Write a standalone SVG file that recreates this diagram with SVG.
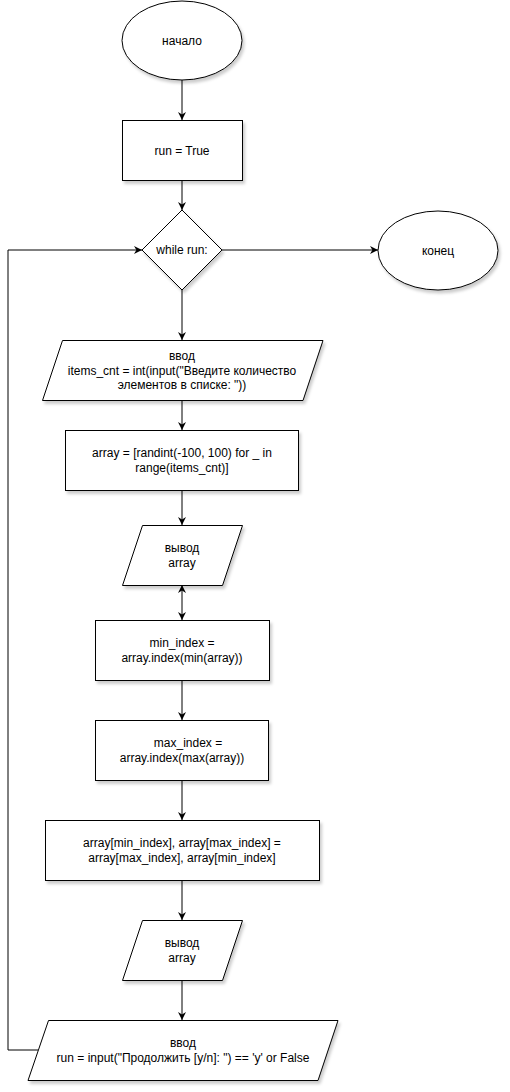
<svg xmlns="http://www.w3.org/2000/svg" width="510" height="1092" viewBox="0 0 510 1092">
<style>
.s{fill:#fff;stroke:#000;stroke-width:1;filter:url(#sh)}
.t{font-family:"Liberation Sans",Arial,sans-serif;font-size:12px;fill:#000;text-anchor:middle}
.c{fill:none;stroke:#000;stroke-width:1}
</style>
<defs>
<filter id="sh" x="-10%" y="-10%" width="130%" height="130%">
<feDropShadow dx="2" dy="3" stdDeviation="1.5" flood-color="#000" flood-opacity="0.2"/>
</filter>
<marker id="a" viewBox="0 0 10 10" refX="10" refY="5" markerWidth="8" markerHeight="8" markerUnits="userSpaceOnUse" orient="auto-start-reverse">
<path d="M0,0 L10,5 L0,10 L3,5 Z" fill="#000"/>
</marker>
</defs>
<rect width="510" height="1092" fill="#fff"/>
<g id="connectors">
<path class="c" d="M182,80 V120" marker-end="url(#a)"/>
<path class="c" d="M182,180 V210" marker-end="url(#a)"/>
<path class="c" d="M222,250 H378" marker-end="url(#a)"/>
<path class="c" d="M182,290 V340" marker-end="url(#a)"/>
<path class="c" d="M182,400 V430" marker-end="url(#a)"/>
<path class="c" d="M182,490 V525" marker-end="url(#a)"/>
<path class="c" d="M182,585 V620" marker-start="url(#a)" marker-end="url(#a)"/>
<path class="c" d="M182,680 V720" marker-end="url(#a)"/>
<path class="c" d="M182,780 V820" marker-end="url(#a)"/>
<path class="c" d="M182,880 V920" marker-end="url(#a)"/>
<path class="c" d="M182,980 V1020" marker-end="url(#a)"/>
<path class="c" d="M38,1050 H8 V250 H142" marker-end="url(#a)"/>
</g>
<g id="start">
<ellipse class="s" cx="182" cy="40.5" rx="60" ry="39.5"/>
<text class="t" x="182" y="45">начало</text>
</g>
<g id="init">
<rect class="s" x="122.5" y="120.5" width="120" height="60"/>
<text class="t" x="182" y="155">run = True</text>
</g>
<g id="while">
<path class="s" d="M182,210 L222,250 L182,290 L142,250 Z"/>
<text class="t" x="182" y="254">while run:</text>
</g>
<g id="end">
<ellipse class="s" cx="438" cy="250.5" rx="60" ry="39.5"/>
<text class="t" x="438" y="255">конец</text>
</g>
<g id="input1">
<path class="s" d="M62.5,340.5 H323 L303,400.5 H42.5 Z"/>
<text class="t" x="182" y="360">ввод</text>
<text class="t" x="182" y="374.5">items_cnt = int(input("Введите количество</text>
<text class="t" x="182" y="389">элементов в списке: "))</text>
</g>
<g id="gen">
<rect class="s" x="65.5" y="430.5" width="233" height="60"/>
<text class="t" x="182" y="457">array = [randint(-100, 100) for _ in</text>
<text class="t" x="182" y="471.5">range(items_cnt)]</text>
</g>
<g id="output1">
<path class="s" d="M142.5,525.5 H242.5 L222.5,585.5 H122.5 Z"/>
<text class="t" x="182" y="552">вывод</text>
<text class="t" x="182" y="566.5">array</text>
</g>
<g id="minidx">
<rect class="s" x="95.5" y="620.5" width="174" height="60"/>
<text class="t" x="182" y="647">min_index =</text>
<text class="t" x="182" y="661.5">array.index(min(array))</text>
</g>
<g id="maxidx">
<rect class="s" x="95.5" y="720.5" width="173" height="60"/>
<text class="t" x="188" y="747">max_index =</text>
<text class="t" x="182" y="761.5">array.index(max(array))</text>
</g>
<g id="swap">
<rect class="s" x="45.5" y="820.5" width="274" height="60"/>
<text class="t" x="182" y="847">array[min_index], array[max_index] =</text>
<text class="t" x="182" y="861.5">array[max_index], array[min_index]</text>
</g>
<g id="output2">
<path class="s" d="M142.5,920.5 H242.5 L222.5,980.5 H122.5 Z"/>
<text class="t" x="182" y="947">вывод</text>
<text class="t" x="182" y="961.5">array</text>
</g>
<g id="input2">
<path class="s" d="M48.5,1020.5 H338 L318,1080.5 H28 Z"/>
<text class="t" x="183" y="1047">ввод</text>
<text class="t" x="183" y="1061.5">run = input("Продолжить [y/n]: ") == 'y' or False</text>
</g>
</svg>
